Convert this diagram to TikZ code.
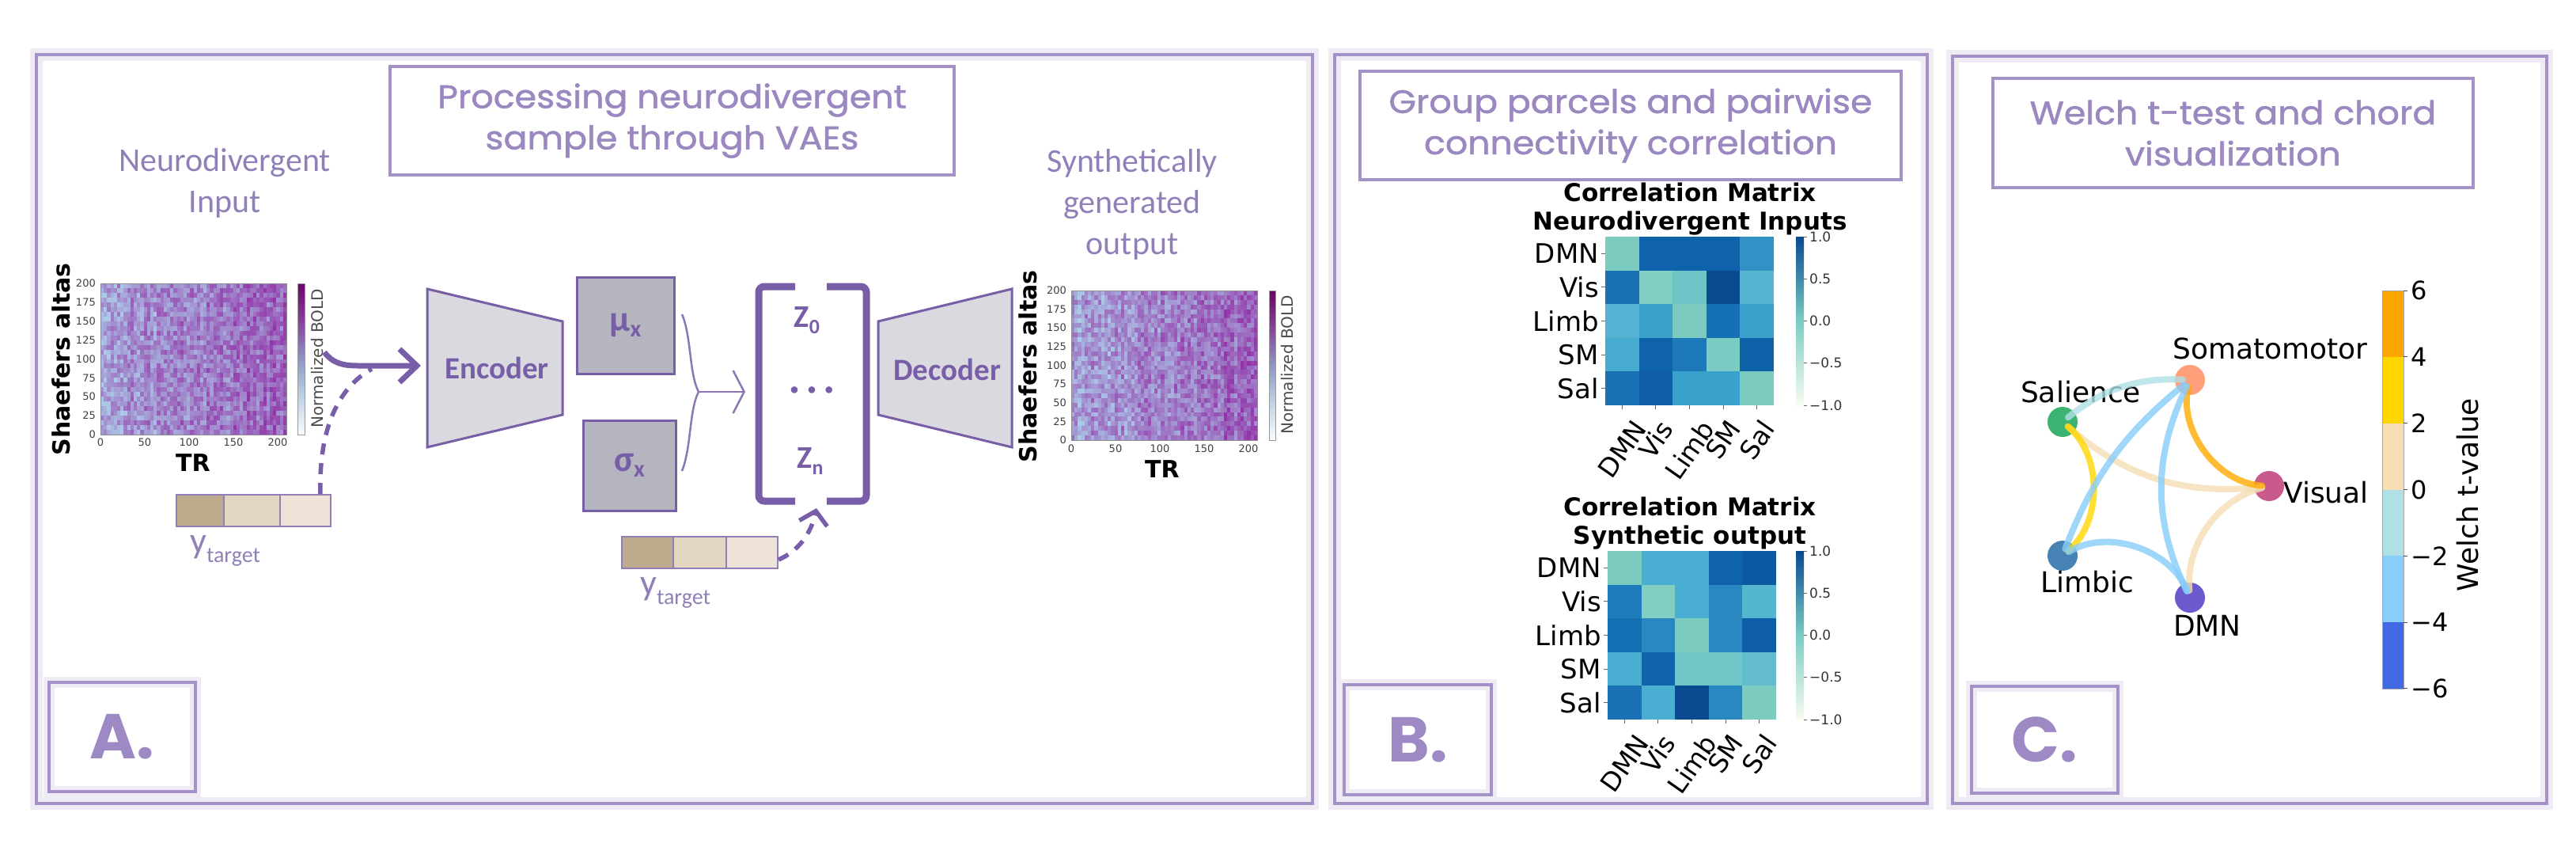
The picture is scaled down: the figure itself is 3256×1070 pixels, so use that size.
\documentclass[tikz,border=0pt]{standalone}
\usepackage{fontspec}
\setmainfont{DejaVu Sans}
\newfontfamily\titlef{Poppins}[FakeStretch=1.08,FakeBold=1.3]
\newfontfamily\letterf{Poppins}
\newfontfamily\calf{Carlito}
\usetikzlibrary{arrows.meta}
\newcommand{\myfs}[1]{\fontsize{#1}{#1}\selectfont}
\newcommand{\myfsb}[2]{\fontsize{#1}{#2}\selectfont}
\definecolor{boxpurple}{RGB}{163,145,200}
\definecolor{titlepurple}{RGB}{155,136,193}
\definecolor{darkpurple}{RGB}{120,94,166}
\definecolor{labpurple}{RGB}{145,128,184}
\definecolor{lettercol}{RGB}{157,137,195}
\definecolor{encfill}{RGB}{217,217,223}
\definecolor{mufill}{RGB}{181,181,191}
\definecolor{hmpurple}{RGB}{145,45,165}
\definecolor{hmblue}{RGB}{172,202,232}
\definecolor{tanA}{RGB}{190,171,142}
\definecolor{tanB}{RGB}{226,214,193}
\definecolor{tanC}{RGB}{237,228,215}
\definecolor{glow}{RGB}{238,235,245}
\definecolor{bp0}{HTML}{F7FCFD}\definecolor{bp1}{HTML}{BFD3E6}\definecolor{bp2}{HTML}{8C96C6}
\definecolor{bp3}{HTML}{88419D}\definecolor{bp4}{HTML}{6E016B}
\definecolor{gn0}{HTML}{F7FCF0}\definecolor{gn1}{HTML}{CCEBC5}\definecolor{gn2}{HTML}{7BCCC4}
\definecolor{gn3}{HTML}{2B8CBE}\definecolor{gn4}{HTML}{084A92}
\definecolor{cpowder}{HTML}{B0E0E6}\definecolor{csky}{HTML}{87CEFA}\definecolor{corange}{HTML}{FFA500}
\definecolor{cwheat}{HTML}{F5DEB3}\definecolor{cgold}{HTML}{FFD700}\definecolor{croyal}{HTML}{4169E1}
\definecolor{nsm}{HTML}{FFA07A}\definecolor{nsal}{HTML}{3CB371}\definecolor{nvis}{HTML}{C85A8E}
\definecolor{nlimb}{HTML}{4682B4}\definecolor{ndmn}{HTML}{6A5ACD}

\newcommand{\fmriheat}[4]{%
\foreach \i in {0,...,55}{%
 \pgfmathsetmacro{\hmcf}{30+38*\i/55+22*rnd-11}%
 \foreach \j in {0,...,31}{%
   \pgfmathtruncatemacro{\hmf}{max(0,min(95,\hmcf+56*rnd-28))}%
   \fill[hmpurple!\hmf!hmblue] ({#1+#3*\i/56},{-(#2+#4*\j/32)}) rectangle ++({#3/56+0.4},{-(#4/32+0.4)});
 }}}
\newcommand{\corrmat}[3]{%
 \foreach \hx [count=\nn from 0] in {#3}{%
  \pgfmathtruncatemacro{\mrow}{floor(\nn/5)}%
  \pgfmathtruncatemacro{\mcol}{\nn-5*\mrow}%
  \edef\tmpdef{\noexpand\definecolor{cellc}{HTML}{\hx}}\tmpdef
  \fill[cellc] ({#1+42.6*\mcol},{-(#2+42.6*\mrow)}) rectangle ++(42.9,-42.9);
 }}

\tikzset{
 panel/.style={draw=boxpurple, line width=4.5pt, preaction={draw=glow, line width=16pt}},
 titlebox/.style={draw=boxpurple, line width=3.5pt, inner sep=0pt, align=center, text=titlepurple, font={\titlef\myfsb{41}{52}}},
 labbox/.style={draw=boxpurple, line width=4pt, preaction={draw=glow, line width=14pt}, inner sep=0pt, text=lettercol, font={\letterf\bfseries\myfs{80}}},
 sidelab/.style={align=center, text=labpurple, font={\calf\myfsb{42}{52}}, inner sep=0pt},
 encbox/.style={fill=encfill, draw=darkpurple, line width=3pt},
 enctext/.style={text=darkpurple, font={\calf\bfseries\myfs{39}}, inner sep=0pt},
 mubox/.style={fill=mufill, draw=darkpurple, line width=3pt, text=darkpurple, font={\calf\bfseries}, inner sep=0pt},
 mainarrow/.style={draw=darkpurple, line width=7pt, -{Straight Barb[length=22pt,width=42pt]}},
 dasharrow/.style={draw=darkpurple, line width=5.5pt, dash pattern=on 14pt off 11pt},
 bracestyle/.style={draw=darkpurple!85, line width=2.5pt},
 zbr/.style={draw=darkpurple, line width=9pt},
 ztext/.style={text=darkpurple, font={\calf\bfseries}, inner sep=0pt},
 ycell/.style={draw=darkpurple!80, line width=2.5pt, inner sep=0pt, minimum height=40pt},
 ylab/.style={anchor=base west, inner sep=0pt, text=labpurple, font=\calf},
 axlab/.style={font={\bfseries\myfs{30}}, inner sep=0pt},
 ticklab/.style={font={\myfs{13}}, text=black!75, inner sep=0pt},
 boldlab/.style={font={\myfs{20}}, text=black!70, inner sep=0pt, rotate=90},
 mtitle/.style={font={\bfseries\myfsb{31}{36}}, align=center, inner sep=0pt},
 rowlab/.style={font={\myfs{34}}, anchor=east, inner sep=0pt},
 collab/.style={font={\myfs{33}}, rotate=55, inner sep=0pt},
 cblab/.style={font={\myfs{17}}, anchor=west, inner sep=0pt, text=black!80},
 cnode/.style={circle, minimum size=38pt, inner sep=0pt},
 clab/.style={font={\myfs{36}}, inner sep=0pt},
 edge/.style={line width=8pt, opacity=0.8, line cap=round, shorten <=9pt, shorten >=9pt},
}

\begin{document}
\begin{tikzpicture}[x=1pt,y=1pt]
\pgfmathsetseed{4242}
\fill[white] (0,0) rectangle (3256,-1070);
\useasboundingbox (0,0) rectangle (3256,-1070);

% ================= Panel A =================
\draw[panel] (46,-69) rectangle (1659,-1015);
\node[titlebox, minimum width=713pt, minimum height=137pt] (tA) at (849.5,-152.5) {Processing neurodivergent\\sample through VAEs};
\node[labbox, minimum width=185pt, minimum height=138pt] (lA) at (154.5,-931) {A.};
\node[sidelab] (inlab) at (284,-231) {Neurodivergent\\Input};
\node[sidelab] (outlab) at (1431,-258) {Synthetically\\generated\\output};

% input heatmap
\fmriheat{127}{358}{235}{191}
\node[draw=black!45, line width=1pt, minimum width=235pt, minimum height=191pt, inner sep=0pt, anchor=north west] (hin) at (127,-358) {};
\shade[bottom color=bp0, top color=bp2, middle color=bp1] (376,-549) rectangle (385,-453.5);
\shade[bottom color=bp2, top color=bp4, middle color=bp3] (376,-453.5) rectangle (385,-358);
\node[draw=black!40, line width=0.6pt, minimum width=9pt, minimum height=191pt, inner sep=0pt, anchor=north west] (cbin) at (376,-358) {};
\node[boldlab] (bin) at (401,-453) {Normalized BOLD};
\foreach \v [count=\k from 0] in {200,175,150,125,100,75,50,25,0}
  \node[ticklab, anchor=east] (yti\k) at (121,{-(358+23.875*\k)}) {\v};
\foreach \v [count=\k from 0] in {0,50,100,150,200}
  \node[ticklab, anchor=north] (xti\k) at ({127+56*\k},-554) {\v};
\node[axlab, rotate=90] (sain) at (77,-454) {Shaefers altas};
\node[axlab] (trin) at (244,-585) {TR};

% ytarget 1
\node[ycell, fill=tanA, minimum width=60pt] (ya1) at (253,-645) {};
\node[ycell, fill=tanB, minimum width=71pt] (yb1) at (318.5,-645) {};
\node[ycell, fill=tanC, minimum width=64pt] (yc1) at (386,-645) {};
\node[ylab] (ylab1) at (240,-698) {\myfs{46}y\raisebox{-12pt}{\myfs{28}target}};

% arrows into encoder
\coordinate (arrS) at (410,-445);
\coordinate (encin) at (532,-462);
\coordinate (yt1top) at (405,-624);
\coordinate (merge) at (470,-466);
\draw[dasharrow] (yt1top) .. controls (403,-560) and (418,-495) .. (merge);
\draw[mainarrow] (arrS) .. controls (420,-458) and (432,-462) .. (452,-462) -- (encin);

% encoder
\draw[encbox] (540,-365) -- (711,-406) -- (711,-524) -- (540,-565) -- cycle;
\node[enctext] (enc) at (628,-465) {Encoder};

% mu sigma
\node[mubox, minimum width=123pt, minimum height=122pt] (mu) at (790.5,-411) {\myfs{46}μ\raisebox{-7pt}{\myfs{30}x}};
\node[mubox, minimum width=117pt, minimum height=114pt] (sig) at (795.5,-588) {\myfs{46}σ\raisebox{-7pt}{\myfs{30}x}};

% brace
\coordinate (brT) at (862,-397);
\coordinate (brB) at (862,-595);
\coordinate (brJ) at (883,-495);
\coordinate (brE) at (942,-495);
\draw[bracestyle] (brT) .. controls (874,-425) and (871,-472) .. (brJ);
\draw[bracestyle] (brB) .. controls (874,-565) and (871,-518) .. (brJ);
\draw[bracestyle, -{Straight Barb[length=14pt,width=54pt]}] (brJ) -- (brE);

% z vector
\draw[zbr, rounded corners=7pt] (1005,-362) -- (959,-362) -- (959,-633) -- (1005,-633);
\draw[zbr, rounded corners=7pt] (1045,-362) -- (1095,-362) -- (1095,-633) -- (1045,-633);
\node[ztext] (z0) at (1020,-405) {\myfs{40}Z\raisebox{-8pt}{\myfs{26}0}};
\node[ztext] (zd) at (1026,-494) {\myfs{20}•\hspace{12pt}•\hspace{12pt}•};
\node[ztext] (zn) at (1024,-583) {\myfs{40}Z\raisebox{-8pt}{\myfs{26}n}};

% ytarget 2
\node[ycell, fill=tanA, minimum width=65pt] (ya2) at (818.5,-698) {};
\node[ycell, fill=tanB, minimum width=67pt] (yb2) at (884.5,-698) {};
\node[ycell, fill=tanC, minimum width=65pt] (yc2) at (950.5,-698) {};
\node[ylab] (ylab2) at (809,-751) {\myfs{46}y\raisebox{-12pt}{\myfs{28}target}};
\coordinate (yt2r) at (984,-707);
\coordinate (zbot) at (1032,-642);
\draw[dasharrow, -{Straight Barb[length=16pt,width=36pt]}] (yt2r) .. controls (1008,-697) and (1025,-675) .. (zbot);

% decoder
\draw[encbox] (1110,-406) -- (1279,-365) -- (1279,-565) -- (1110,-524) -- cycle;
\node[enctext] (dec) at (1197,-467) {Decoder};

% output heatmap
\fmriheat{1354}{367}{235}{189}
\node[draw=black!45, line width=1pt, minimum width=235pt, minimum height=189pt, inner sep=0pt, anchor=north west] (hout) at (1354,-367) {};
\shade[bottom color=bp0, top color=bp2, middle color=bp1] (1604,-556) rectangle (1612,-461.5);
\shade[bottom color=bp2, top color=bp4, middle color=bp3] (1604,-461.5) rectangle (1612,-367);
\node[draw=black!40, line width=0.6pt, minimum width=8pt, minimum height=189pt, inner sep=0pt, anchor=north west] (cbout) at (1604,-367) {};
\node[boldlab] (bout) at (1627,-461) {Normalized BOLD};
\foreach \v [count=\k from 0] in {200,175,150,125,100,75,50,25,0}
  \node[ticklab, anchor=east] (yto\k) at (1348,{-(367+23.625*\k)}) {\v};
\foreach \v [count=\k from 0] in {0,50,100,150,200}
  \node[ticklab, anchor=north] (xto\k) at ({1354+56*\k},-562) {\v};
\node[axlab, rotate=90] (saout) at (1299,-463) {Shaefers altas};
\node[axlab] (trout) at (1469,-593) {TR};

% ================= Panel B =================
\draw[panel] (1687,-69) rectangle (2436,-1015);
\node[titlebox, minimum width=684pt, minimum height=137pt] (tB) at (2061,-158.5) {Group parcels and pairwise\\connectivity correlation};
\node[labbox, minimum width=186pt, minimum height=139pt] (lB) at (1792,-934.5) {B.};

% matrix 1
\node[mtitle] (m1t) at (2136,-264) {Correlation Matrix\\Neurodivergent Inputs};
\corrmat{2029}{299}{7CCBC0,0F63AA,0F63AA,0F63AA,3291C5,1A72B5,80CFC2,70C4C8,0A4A90,56B5D0,54B3D2,3BA1CB,7CCBC0,1570B4,3A9FCB,48ACD0,0F63AA,1D78B8,7ACBC2,0D62AA,1A72B5,0F5EA7,3AA0CC,3AA0CC,7CCBC0}
\foreach \lab [count=\k from 0] in {DMN,Vis,Limb,SM,Sal}{
  \node[rowlab] (m1r\k) at (2021,{-(299+21.3+42.6*\k)}) {\lab};
  \draw[black!60, line width=1pt] (2024,{-(299+21.3+42.6*\k)}) -- (2029,{-(299+21.3+42.6*\k)});
  \draw[black!60, line width=1pt] ({2029+21.3+42.6*\k},-512) -- ({2029+21.3+42.6*\k},-517);
}
\foreach \lab/\dy [count=\k from 0] in {DMN/40.5,Vis/28.2,Limb/41.7,SM/28.2,Sal/28.6}
  \node[collab] (m1c\k) at ({2029+21.3+42.6*\k},{-(527+\dy)}) {\lab};
\shade[bottom color=gn0, middle color=gn1, top color=gn2] (2270,-512) rectangle (2280,-405.5);
\shade[bottom color=gn2, middle color=gn3, top color=gn4] (2270,-405.5) rectangle (2280,-299);
\foreach \v [count=\k from 0] in {1.0,0.5,0.0,−0.5,−1.0}{
  \draw[black!60, line width=0.8pt] (2280,{-(299+53.25*\k)}) -- (2284,{-(299+53.25*\k)});
  \node[cblab] (m1b\k) at (2287,{-(299+53.25*\k)}) {\v};
}

% matrix 2
\node[mtitle] (m2t) at (2136,-661) {Correlation Matrix\\Synthetic output};
\corrmat{2032}{696}{7CCBC0,4AAED2,4AAED2,0F63AA,0D5AA3,1F7CBA,80CFC2,4AAED2,2A87C0,55B6CF,1670B4,2A88C1,7CCBC0,2A88C1,0D5EA7,4AAED2,0F63AA,70C6C7,70C6C7,62BCCB,1A72B5,4AAED2,0A4A90,2A88C1,7CCBC0}
\foreach \lab [count=\k from 0] in {DMN,Vis,Limb,SM,Sal}{
  \node[rowlab] (m2r\k) at (2024,{-(696+21.3+42.6*\k)}) {\lab};
  \draw[black!60, line width=1pt] (2027,{-(696+21.3+42.6*\k)}) -- (2032,{-(696+21.3+42.6*\k)});
  \draw[black!60, line width=1pt] ({2032+21.3+42.6*\k},-909) -- ({2032+21.3+42.6*\k},-914);
}
\foreach \lab/\dy [count=\k from 0] in {DMN/40.5,Vis/28.2,Limb/41.7,SM/28.2,Sal/28.6}
  \node[collab] (m2c\k) at ({2032+21.3+42.6*\k},{-(924+\dy)}) {\lab};
\shade[bottom color=gn0, middle color=gn1, top color=gn2] (2270,-909) rectangle (2280,-802.5);
\shade[bottom color=gn2, middle color=gn3, top color=gn4] (2270,-802.5) rectangle (2280,-696);
\foreach \v [count=\k from 0] in {1.0,0.5,0.0,−0.5,−1.0}{
  \draw[black!60, line width=0.8pt] (2280,{-(696+53.25*\k)}) -- (2284,{-(696+53.25*\k)});
  \node[cblab] (m2b\k) at (2287,{-(696+53.25*\k)}) {\v};
}

% ================= Panel C =================
\draw[panel] (2468,-71) rectangle (3219,-1015);
\node[titlebox, minimum width=607pt, minimum height=138pt] (tC) at (2822.5,-168) {Welch t-test and chord\\visualization};
\node[labbox, minimum width=185pt, minimum height=135pt] (lC) at (2584.5,-934.5) {C.};

% colorbar
\fill[corange] (3011,-367) rectangle (3038,-451);
\fill[cgold] (3011,-451) rectangle (3038,-535);
\fill[cwheat] (3011,-535) rectangle (3038,-619);
\fill[cpowder] (3011,-619) rectangle (3038,-702);
\fill[csky] (3011,-702) rectangle (3038,-786);
\fill[croyal] (3011,-786) rectangle (3038,-870);
\node[draw=black!35, line width=0.8pt, minimum width=27pt, minimum height=503pt, inner sep=0pt, anchor=north west] (cbC) at (3011,-367) {};
\foreach \v [count=\k from 0] in {6,4,2,0,−2,−4,−6}{
  \draw[black!70, line width=1pt] (3038,{-(367+83.83*\k)}) -- (3043,{-(367+83.83*\k)});
  \node[font={\myfs{32}}, anchor=west, inner sep=0pt] (cbl\k) at (3047,{-(367+83.83*\k)}) {\v};
}
\node[font={\myfs{36}}, rotate=90, inner sep=0pt] (wt) at (3119,-625) {Welch t-value};

% chord nodes
\node[cnode, fill=nsm] (sm) at (2768,-480) {};
\node[cnode, fill=nsal] (sal) at (2607,-533) {};
\node[cnode, fill=nvis] (vis) at (2868,-614) {};
\node[cnode, fill=nlimb] (limb) at (2607,-702) {};
\node[cnode, fill=ndmn] (dmn) at (2768,-755) {};
\node[clab, anchor=west] (smL) at (2746,-440) {Somatomotor};
\node[clab] (salL) at (2630,-495) {Salience};
\node[clab, anchor=west] (visL) at (2886,-622) {Visual};
\node[clab] (limbL) at (2638,-735) {Limbic};
\node[clab] (dmnL) at (2790,-790) {DMN};

% chord edges
\draw[edge, cwheat] (sal.center) to[bend right=24] (vis.center);
\draw[edge, cwheat] (dmn.center) to[bend left=40] (vis.center);
\draw[edge, cpowder] (sal.center) to[bend left=21] (sm.center);
\draw[edge, corange!85!cgold] (vis.center) to[bend left=50] (sm.center);
\draw[edge, cgold] (limb.center) to[bend right=50] (sal.center);
\draw[edge, csky] (limb.center) to[bend left=15] (sm.center);
\draw[edge, csky] (dmn.center) to[bend left=26] (sm.center);
\draw[edge, csky] (limb.center) to[bend left=50] (dmn.center);
\end{tikzpicture}
\end{document}
